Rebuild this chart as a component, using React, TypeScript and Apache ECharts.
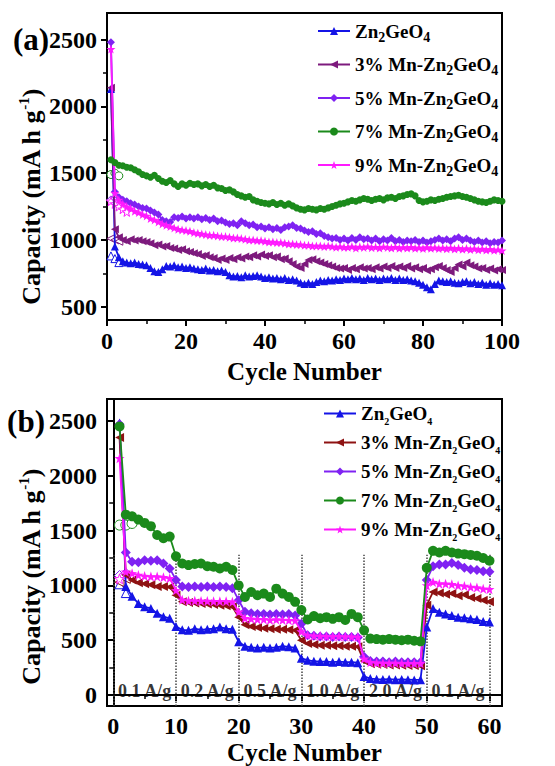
import React, { useEffect, useRef } from "react";
import * as echarts from "echarts";

const FONT = "Liberation Serif";

// ---------- Panel (a): cycling performance, cycles 1..100 ----------
const aZn = [
  2130, 950, 870, 840, 830, 825, 830, 820, 815, 810,
  790, 765, 760, 780, 805, 800, 810, 795, 800, 790,
  795, 785, 780, 775, 785, 770, 775, 765, 770, 760,
  735, 725, 730, 720, 735, 725, 730, 735, 725, 715,
  720, 710, 715, 705, 715, 700, 705, 695, 680, 670,
  680, 670, 685, 695, 690, 700, 695, 705, 700, 710,
  705, 715, 705, 710, 700, 715, 705, 710, 700, 710,
  705, 715, 700, 710, 700, 705, 695, 690, 680, 665,
  645, 630, 670, 695, 690, 685, 690, 680, 675, 685,
  690, 675, 685, 670, 680, 665, 675, 665, 670, 660,
];
const aMn3 = [
  2140, 1080, 1020, 1000, 990, 1005, 995, 1000, 990, 985,
  975, 960, 965, 950, 955, 940, 935, 925, 930, 915,
  910, 900, 895, 880, 885, 870, 865, 850, 860, 850,
  865, 855, 870, 860, 875, 870, 885, 875, 890, 880,
  885, 870, 875, 855, 860, 840, 820, 800, 790, 820,
  850, 855, 840, 830, 820, 810, 800, 790, 785, 790,
  775, 790, 780, 795, 785, 790, 780, 795, 785, 800,
  790, 805, 790, 800, 790, 805, 785, 795, 780, 790,
  770, 780, 795, 805, 790, 775, 760, 790, 815, 800,
  830, 810, 800, 785, 790, 775, 785, 770, 780, 775,
];
const aMn5 = [
  2480, 1360, 1320, 1300, 1290, 1275, 1265, 1250, 1240, 1235,
  1220, 1205, 1190, 1150, 1140, 1135, 1170, 1165, 1175, 1160,
  1170, 1160, 1170, 1155, 1165, 1150, 1160, 1140, 1145, 1130,
  1120, 1125, 1110, 1140, 1125, 1110, 1115, 1095, 1100, 1085,
  1095, 1080, 1090, 1075, 1095, 1100, 1110, 1090, 1085, 1070,
  1060, 1065, 1045, 1050, 1030, 1020, 1010, 1015, 1000, 1010,
  995, 1015, 1000, 1020, 1005, 1010, 995, 1010, 990, 1005,
  995, 1015, 990, 1000, 985, 995, 990, 1000, 985, 995,
  980, 990, 1000, 1010, 995, 1005, 990, 1010, 1020, 1000,
  1010, 995, 985, 995, 980, 990, 975, 985, 980, 995,
];
const aMn7 = [
  1600, 1580, 1560, 1555, 1545, 1540, 1525, 1510, 1490, 1480,
  1470, 1485, 1460, 1440, 1430, 1445, 1420, 1400, 1420, 1410,
  1425, 1415, 1420, 1405, 1415, 1400, 1410, 1390, 1385, 1370,
  1375, 1360, 1340, 1330, 1320, 1325, 1300, 1290, 1280, 1275,
  1270, 1280, 1265, 1275, 1260, 1270, 1255, 1240, 1230, 1225,
  1235, 1230, 1225, 1235, 1230, 1240, 1250, 1260, 1270, 1275,
  1285, 1295, 1290, 1300, 1310, 1305, 1295, 1305, 1310, 1300,
  1315, 1320, 1310, 1325, 1330, 1340, 1345, 1330, 1295, 1285,
  1290, 1300, 1295, 1305, 1310, 1320, 1325, 1330, 1335, 1325,
  1320, 1310, 1300, 1290, 1285, 1280, 1290, 1300, 1295, 1290,
];
const aMn9 = [
  2430, 1350, 1300, 1270, 1250, 1235, 1215, 1205, 1190, 1180,
  1160, 1150, 1135, 1120, 1110, 1100, 1090, 1080, 1075, 1070,
  1065, 1055, 1050, 1045, 1040, 1035, 1035, 1030, 1025, 1025,
  1020, 1015, 1015, 1010, 1005, 1000, 1000, 995, 995, 990,
  985, 985, 980, 980, 975, 970, 970, 965, 965, 960,
  960, 955, 955, 955, 950, 955, 950, 945, 950, 945,
  945, 950, 940, 948, 944, 950, 942, 946, 940, 948,
  944, 940, 946, 938, 944, 940, 945, 938, 942, 936,
  944, 938, 942, 935, 940, 934, 940, 932, 938, 930,
  936, 928, 934, 926, 932, 925, 930, 922, 928, 920,
];
// charge (hollow symbols), only the first cycles are visible
const aZnC = [880, 860, 830];
const aMn3C = [1010, 1000, 990];
const aMn5C = [1300, 1310];
const aMn7C = [1490, 1500, 1480];
const aMn9C = [1290, 1270, 1250, 1230, 1210];

// ---------- Panel (b): rate performance, cycles 1..60 ----------
const bZn = [
  2480, 990, 900, 835, 805, 790, 745, 715, 700, 625,
  595, 590, 605, 595, 600, 605, 620, 605, 600, 485,
  445, 435, 430, 435, 430, 435, 445, 440, 430, 335,
  318, 308, 305, 305, 300, 305, 300, 300, 295, 170,
  150, 145, 142, 145, 140, 142, 140, 138, 140, 620,
  790, 755, 740, 725, 710, 705, 695, 690, 670, 665,
];
const bMn3 = [
  2350, 1095, 1050, 1025, 1015, 1005, 990, 990, 985, 910,
  850, 845, 840, 835, 830, 825, 820, 815, 805, 710,
  640, 625, 615, 610, 605, 600, 600, 595, 590, 500,
  470, 460, 455, 455, 450, 450, 445, 445, 440, 310,
  285, 280, 278, 275, 275, 272, 270, 270, 268, 820,
  940, 930, 920, 925, 905, 915, 890, 880, 865, 850,
];
const bMn5 = [
  2470, 1300, 1215, 1210, 1230, 1225, 1230, 1200, 1155, 1050,
  990, 985, 990, 985, 990, 985, 990, 985, 975, 865,
  760, 745, 740, 740, 735, 740, 735, 740, 725, 650,
  545, 540, 535, 535, 530, 535, 530, 530, 525, 350,
  310, 305, 305, 300, 305, 300, 300, 300, 298, 1050,
  1175, 1190, 1190, 1205, 1185, 1160, 1145, 1140, 1130, 1125,
];
const bMn7 = [
  2450, 1645, 1630, 1600, 1570, 1540, 1460, 1430, 1445, 1265,
  1200, 1185, 1195, 1200, 1175, 1170, 1155, 1170, 1140, 1000,
  895, 940, 910, 925, 895, 970, 925, 895, 850, 775,
  690, 720, 700, 710, 695, 710, 685, 740, 710, 590,
  515, 510, 505, 510, 505, 500, 505, 495, 490, 1160,
  1315, 1300, 1315, 1300, 1290, 1285, 1278, 1270, 1250, 1225,
];
const bMn9 = [
  2160, 1125, 1110, 1095, 1085, 1080, 1080, 1075, 1065, 955,
  870, 860, 860, 858, 858, 856, 856, 855, 850, 760,
  700, 695, 690, 690, 685, 688, 685, 682, 680, 580,
  545, 540, 538, 536, 535, 535, 533, 532, 530, 330,
  300, 295, 293, 292, 292, 290, 290, 290, 290, 1000,
  1030, 1015, 1015, 1010, 1000, 995, 985, 980, 970, 965,
];
const bZnC = [1010, 930];
const bMn3C = [1030, 1060];
const bMn5C = [1090, 1110];
const bMn7C = [1550, 1550, 1565];
const bMn9C = [1060, 1100];

const rateLabels = ["0.1 A/g", "0.2 A/g", "0.5 A/g", "1.0 A/g", "2.0 A/g", "0.1 A/g"];
const rateLabelX = [5, 15, 25, 35, 45, 55];
const rateLabelY = 35;
const rateDividers = [0, 10, 20, 30, 40, 50, 60];
const dividerTop = 1280;

const aYTicks = [500, 1000, 1500, 2000, 2500];
const aYMinor = [750, 1250, 1750, 2250];
const bYTicks = [0, 500, 1000, 1500, 2000, 2500];
const bYMinor = [250, 750, 1250, 1750, 2250];
const bXTicks = [0, 10, 20, 30, 40, 50, 60];
const bXMinor = [5, 15, 25, 35, 45, 55];

const legendNames: Record<string, string> = {
  a0: "{n|Zn}{s|2}{n|GeO}{s|4}",
  a1: "{n|3% Mn-Zn}{s|2}{n|GeO}{s|4}",
  a2: "{n|5% Mn-Zn}{s|2}{n|GeO}{s|4}",
  a3: "{n|7% Mn-Zn}{s|2}{n|GeO}{s|4}",
  a4: "{n|9% Mn-Zn}{s|2}{n|GeO}{s|4}",
  b0: "{n|Zn}{s|2}{n|GeO}{s|4}",
  b1: "{n|3% Mn-Zn}{s|2}{n|GeO}{s|4}",
  b2: "{n|5% Mn-Zn}{s|2}{n|GeO}{s|4}",
  b3: "{n|7% Mn-Zn}{s|2}{n|GeO}{s|4}",
  b4: "{n|9% Mn-Zn}{s|2}{n|GeO}{s|4}",
};

const STAR =
  "path://M0,-10L2.35,-3.24L9.51,-3.09L3.8,1.24L5.88,8.09L0,4L-5.88,8.09L-3.8,1.24L-9.51,-3.09L-2.35,-3.24Z";

const BLUE = "#1414e6";
const PURPLE = "#7d1a7d";
const DARKRED = "#8e1212";
const VIOLET = "#7f22f2";
const GREEN = "#1b8a1b";
const MAGENTA = "#ff1aff";

function toPairs(vals: number[]) {
  return vals.map((v, i) => [i + 1, v]);
}

function mainSeries(
  name: string, vals: number[], color: string, symbol: string,
  rotate: number, size: number, xi: number, yi: number, z: number
) {
  return {
    type: "line", name, xAxisIndex: xi, yAxisIndex: yi,
    data: toPairs(vals), symbol, symbolRotate: rotate, symbolSize: size,
    itemStyle: { color }, lineStyle: { color, width: 1.8 }, z,
  };
}

function chargeSeries(
  vals: number[], color: string, symbol: string,
  rotate: number, size: number, xi: number, yi: number
) {
  return {
    type: "line", xAxisIndex: xi, yAxisIndex: yi,
    data: toPairs(vals), symbol, symbolRotate: rotate, symbolSize: size,
    itemStyle: { color: "#ffffff", borderColor: color, borderWidth: 1 },
    lineStyle: { opacity: 0 }, z: 1,
  };
}

const plain = (v: number) => String(v);
const tickLabel = { fontFamily: FONT, fontWeight: "bold", fontSize: 24, color: "#000", formatter: plain };
const axisLine = { lineStyle: { color: "#000", width: 2 } };

export default function App() {
  const ref = useRef<HTMLDivElement>(null);
  useEffect(() => {
    if (!ref.current) return;
    const chart = echarts.init(ref.current, null, { renderer: "svg" });

    const legendRich = (shift: number, sub: number) => ({
      n: { fontFamily: FONT, fontWeight: "bold", fontSize: 19, lineHeight: 22, color: "#000" },
      s: { fontFamily: FONT, fontWeight: "bold", fontSize: sub, lineHeight: 16, padding: [shift, 0, 0, 0], color: "#000" },
    });

    const capRich = {
      t: { fontFamily: FONT, fontWeight: "bold", fontSize: 26, lineHeight: 28, fill: "#000" },
      p: { fontFamily: FONT, fontWeight: "bold", fontSize: 15, lineHeight: 16, padding: [0, 0, 14, 0], fill: "#000" },
    };

    const option: any = {
      animation: false,
      backgroundColor: "#fff",
      textStyle: { fontFamily: FONT },
      grid: [
        { left: 107, top: 13, width: 395, height: 307, show: true, borderColor: "#000", borderWidth: 2, backgroundColor: "transparent" },
        { left: 107, top: 399, width: 395, height: 307, show: true, borderColor: "#000", borderWidth: 2, backgroundColor: "transparent" },
      ],
      xAxis: [
        {
          gridIndex: 0, type: "value", min: 0, max: 100, interval: 20, position: "bottom",
          axisLine, axisTick: { length: 6, lineStyle: { width: 2 } },
          minorTick: { show: true, splitNumber: 2, length: 4, lineStyle: { color: "#000", width: 1.5 } },
          axisLabel: { ...tickLabel, margin: 9 }, splitLine: { show: false },
          name: "Cycle Number", nameLocation: "middle", nameGap: 39,
          nameTextStyle: { fontFamily: FONT, fontWeight: "bold", fontSize: 25, color: "#000" },
        },
        {
          gridIndex: 1, type: "value", min: -1, max: 62, position: "bottom",
          axisLine, axisTick: { length: 6, lineStyle: { width: 2 }, customValues: bXTicks },
          axisLabel: { ...tickLabel, margin: 8, customValues: bXTicks }, splitLine: { show: false },
          name: "Cycle Number", nameLocation: "middle", nameGap: 34,
          nameTextStyle: { fontFamily: FONT, fontWeight: "bold", fontSize: 25, color: "#000" },
        },
        {
          gridIndex: 1, type: "value", min: -1, max: 62, position: "bottom",
          axisLine: { show: false }, axisLabel: { show: false }, splitLine: { show: false },
          axisTick: { length: 4, lineStyle: { color: "#000", width: 1.5 }, customValues: bXMinor },
        },
      ],
      yAxis: [
        {
          gridIndex: 0, type: "value", min: 400, max: 2700, position: "left",
          axisLine: { show: true, ...axisLine }, axisTick: { show: true, length: 6, lineStyle: { width: 2 }, customValues: aYTicks },
          axisLabel: { ...tickLabel, margin: 10, customValues: aYTicks }, splitLine: { show: false },
        },
        {
          gridIndex: 0, type: "value", min: 400, max: 2700, position: "left",
          axisLine: { show: false }, axisLabel: { show: false }, splitLine: { show: false },
          axisTick: { show: true, length: 4, lineStyle: { color: "#000", width: 1.5 }, customValues: aYMinor },
        },
        {
          gridIndex: 1, type: "value", min: -100, max: 2700, position: "left",
          axisLine: { show: true, ...axisLine }, axisTick: { show: true, length: 6, lineStyle: { width: 2 }, customValues: bYTicks },
          axisLabel: { ...tickLabel, margin: 10, customValues: bYTicks }, splitLine: { show: false },
        },
        {
          gridIndex: 1, type: "value", min: -100, max: 2700, position: "left",
          axisLine: { show: false }, axisLabel: { show: false }, splitLine: { show: false },
          axisTick: { show: true, length: 4, lineStyle: { color: "#000", width: 1.5 }, customValues: bYMinor },
        },
      ],
      legend: [
        {
          data: ["a0", "a1", "a2", "a3", "a4"], orient: "vertical", left: 312, top: 13,
          itemWidth: 32, itemHeight: 10, itemGap: 7.5, selectedMode: false,
          formatter: (n: string) => legendNames[n],
          textStyle: { fontFamily: FONT, fontWeight: "bold", rich: legendRich(12, 14) },
        },
        {
          data: ["b0", "b1", "b2", "b3", "b4"], orient: "vertical", left: 318, top: 396,
          itemWidth: 32, itemHeight: 10, itemGap: 4, selectedMode: false,
          formatter: (n: string) => legendNames[n],
          textStyle: { fontFamily: FONT, fontWeight: "bold", rich: legendRich(15, 10) },
        },
      ],
      graphic: [
        { type: "text", x: 31, y: 39, style: { text: "(a)", fontFamily: FONT, fontWeight: "bold", fontSize: 31, fill: "#000", align: "center", verticalAlign: "middle" } },
        { type: "text", x: 26, y: 421, style: { text: "(b)", fontFamily: FONT, fontWeight: "bold", fontSize: 31, fill: "#000", align: "center", verticalAlign: "middle" } },
        { type: "text", x: 31, y: 197, rotation: Math.PI / 2, style: { text: "{t|Capacity (mA h g}{p|-1}{t|)}", rich: capRich, fontFamily: FONT, fontWeight: "bold", fontSize: 26, fill: "#000", align: "center", verticalAlign: "middle" } },
        { type: "text", x: 31, y: 577, rotation: Math.PI / 2, style: { text: "{t|Capacity (mA h g}{p|-1}{t|)}", rich: capRich, fontFamily: FONT, fontWeight: "bold", fontSize: 26, fill: "#000", align: "center", verticalAlign: "middle" } },
      ],
      series: [
        // charge (hollow) (a)
        chargeSeries(aZnC, BLUE, "triangle", 0, 8, 0, 0),
        chargeSeries(aMn3C, PURPLE, "triangle", 90, 8, 0, 0),
        chargeSeries(aMn5C, VIOLET, "diamond", 0, 8, 0, 0),
        chargeSeries(aMn7C, GREEN, "circle", 0, 8, 0, 0),
        chargeSeries(aMn9C, MAGENTA, STAR, 0, 9, 0, 0),
        // discharge (a)
        mainSeries("a0", aZn, BLUE, "triangle", 0, 8, 0, 0, 3),
        mainSeries("a1", aMn3, PURPLE, "triangle", 90, 8, 0, 0, 3),
        mainSeries("a2", aMn5, VIOLET, "diamond", 0, 8, 0, 0, 3),
        mainSeries("a4", aMn9, MAGENTA, STAR, 0, 9, 0, 0, 4),
        mainSeries("a3", aMn7, GREEN, "circle", 0, 7, 0, 0, 5),
        // charge (hollow) (b)
        chargeSeries(bZnC, BLUE, "triangle", 0, 9, 1, 2),
        chargeSeries(bMn3C, DARKRED, "triangle", 90, 9, 1, 2),
        chargeSeries(bMn5C, VIOLET, "diamond", 0, 10, 1, 2),
        chargeSeries(bMn7C, GREEN, "circle", 0, 10, 1, 2),
        chargeSeries(bMn9C, MAGENTA, STAR, 0, 10, 1, 2),
        // discharge (b)
        {
          ...mainSeries("b0", bZn, BLUE, "triangle", 0, 9, 1, 2, 3),
          markLine: {
            silent: true, z: 1, symbol: ["none", "none"], label: { show: false },
            lineStyle: { type: "dotted", color: "#444", width: 1.5 },
            data: rateDividers.map((x) => [{ coord: [x, -100] }, { coord: [x, dividerTop] }]),
          },
        },
        mainSeries("b1", bMn3, DARKRED, "triangle", 90, 9, 1, 2, 3),
        mainSeries("b2", bMn5, VIOLET, "diamond", 0, 10, 1, 2, 3),
        mainSeries("b4", bMn9, MAGENTA, STAR, 0, 10, 1, 2, 4),
        mainSeries("b3", bMn7, GREEN, "circle", 0, 10, 1, 2, 5),
        {
          type: "scatter", xAxisIndex: 1, yAxisIndex: 2, symbolSize: 1,
          itemStyle: { color: "rgba(0,0,0,0)" }, z: 6,
          data: rateLabels.map((t, i) => ({ value: [rateLabelX[i], rateLabelY], name: t })),
          label: { show: true, position: "inside", formatter: "{b}", fontFamily: FONT, fontWeight: "bold", fontSize: 18, color: "#000" },
        },
      ],
    };
    chart.setOption(option);
    return () => chart.dispose();
  }, []);

  return (
    <div
      ref={ref}
      style={{ position: "absolute", left: 0, top: 0, width: 555, height: 766, background: "#fff" }}
    />
  );
}
